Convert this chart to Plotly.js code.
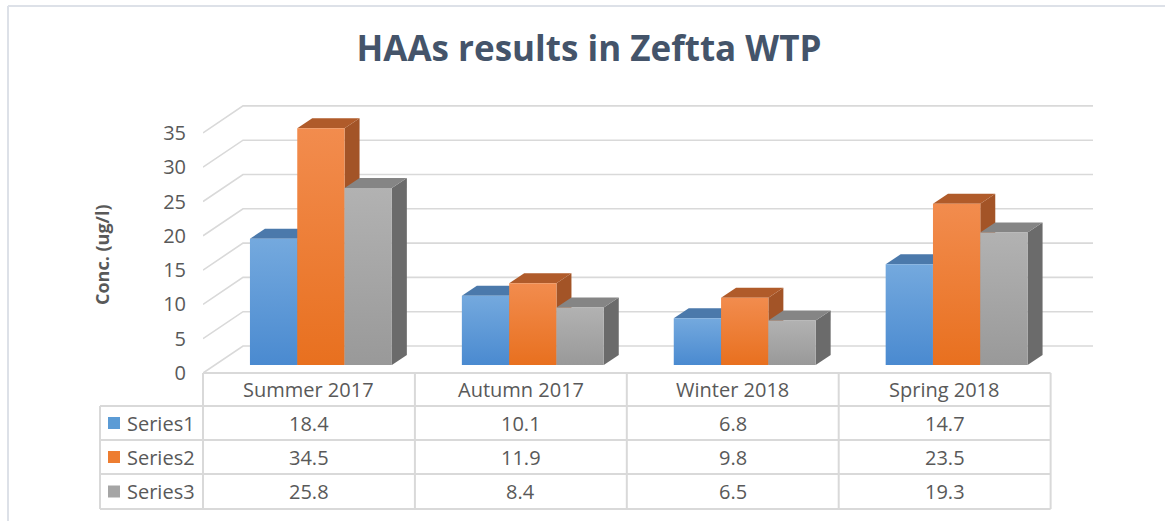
<!DOCTYPE html>
<html>
<head>
<meta charset="utf-8">
<script src="https://cdn.plot.ly/plotly-3.0.1.min.js"></script>
<style>html,body{margin:0;padding:0;background:#fff;}#chart{width:1165px;height:521px;}</style>
</head>
<body>
<div id="chart"></div>
<script>
// ---- data ----
const categories = ['Summer 2017', 'Autumn 2017', 'Winter 2018', 'Spring 2018'];
const seriesNames = ['Series1', 'Series2', 'Series3'];
const series1 = [18.4, 10.1, 6.8, 14.7];
const series2 = [34.5, 11.9, 9.8, 23.5];
const series3 = [25.8, 8.4, 6.5, 19.3];
const yTicks = [0, 5, 10, 15, 20, 25, 30, 35];
const yTitle = 'Conc. (ug/l)';
const chartTitle = 'HAAs results in Zeftta WTP';

// ---- styling / geometry constants ----
const W = 1165, H = 521;
const L = 203, R = 72;            // plot area in px
const PW = W - L - R;
const xRange = [-0.5, 3.7];
const pxPerX = PW / (xRange[1] - xRange[0]);
const y0px = 373, pxPerY = 6.86;
const yRange = [(y0px - H) / pxPerY, y0px / pxPerY];

const frontColors = [['#4a8ad0', '#74a9de'], ['#e8701f', '#f28c4e'], ['#999999', '#b2b2b2']];
const topColors = ['#4b79ab', '#b05b2a', '#858585'];
const sideColors = ['#3e6a9c', '#a35427', '#6b6b6b'];
const legendColors = ['#5b9bd5', '#ed7d31', '#a5a5a5'];
const textColor = '#595959';
const gridColor = '#d9d9d9';
const FONT = 'Open Sans, Liberation Sans, sans-serif';

const wallDX = 40 / pxPerX, wallDY = 27 / pxPerY;   // side wall depth
const barOffY = 8 / pxPerY;                         // bar front plane
const barDX = 15 / pxPerX, barDY = 10 / pxPerY;     // bar depth
const barW = 47.3 / pxPerX;
const groupStart = -59 / pxPerX;

const allSeries = [series1, series2, series3];
const traces = [];

// grid lines (left wall + back wall)
yTicks.forEach(v => {
  traces.push({
    type: 'scatter', mode: 'lines', hoverinfo: 'skip', showlegend: false,
    x: [xRange[0], xRange[0] + wallDX, xRange[1]],
    y: [v, v + wallDY, v + wallDY],
    line: {color: gridColor, width: 1.6}
  });
});

// 3D bars
categories.forEach((cat, c) => {
  allSeries.forEach((ser, s) => {
    const v = ser[c];
    const x0 = c + groupStart + s * barW;
    const x1 = x0 + barW;
    const b = barOffY, t = barOffY + v;
    // side face
    traces.push({
      type: 'scatter', mode: 'lines', hoverinfo: 'skip', showlegend: false,
      x: [x1, x1, x1 + barDX, x1 + barDX, x1],
      y: [b, t, t + barDY, b + barDY, b],
      fill: 'toself', fillcolor: sideColors[s], line: {width: 0, color: sideColors[s]}
    });
    // top face
    traces.push({
      type: 'scatter', mode: 'lines', hoverinfo: 'skip', showlegend: false,
      x: [x0, x1, x1 + barDX, x0 + barDX, x0],
      y: [t, t, t + barDY, t + barDY, t],
      fill: 'toself', fillcolor: topColors[s], line: {width: 0, color: topColors[s]}
    });
    // front face
    traces.push({
      type: 'scatter', mode: 'lines', name: seriesNames[s], showlegend: false,
      x: [x0, x1, x1, x0, x0],
      y: [b, b, t, t, b],
      text: cat + ': ' + v, hoverinfo: 'text',
      fill: 'toself', fillcolor: frontColors[s][0],
      fillgradient: {type: 'vertical', colorscale: [[0, frontColors[s][0]], [1, frontColors[s][1]]]},
      line: {width: 0, color: frontColors[s][0]}
    });
  });
});

// ---- table (drawn with shapes + annotations) ----
const px2x = px => (px - L) / PW;
const px2y = py => 1 - py / H;
const colW = pxPerX;                   // one category per column
const colLeft = c => L + (c) * colW;   // x=-0.5 at L
const tblLeft = 100;
const rowLines = [373, 406, 440, 474, 509];
const tableRight = colLeft(categories.length);
const lineStyle = {color: gridColor, width: 2};
const shapes = [];
// horizontal lines
shapes.push({type: 'line', xref: 'paper', yref: 'paper', x0: px2x(L), x1: px2x(tableRight), y0: px2y(rowLines[0]), y1: px2y(rowLines[0]), line: lineStyle});
for (let i = 1; i < rowLines.length; i++) {
  shapes.push({type: 'line', xref: 'paper', yref: 'paper', x0: px2x(tblLeft), x1: px2x(tableRight), y0: px2y(rowLines[i]), y1: px2y(rowLines[i]), line: lineStyle});
}
// vertical lines
for (let c = 0; c <= categories.length; c++) {
  shapes.push({type: 'line', xref: 'paper', yref: 'paper', x0: px2x(colLeft(c)), x1: px2x(colLeft(c)), y0: px2y(rowLines[0]), y1: px2y(rowLines[4]), line: lineStyle});
}
shapes.push({type: 'line', xref: 'paper', yref: 'paper', x0: px2x(tblLeft), x1: px2x(tblLeft), y0: px2y(rowLines[1]), y1: px2y(rowLines[4]), line: lineStyle});
// legend squares
seriesNames.forEach((n, s) => {
  const cy = (rowLines[s + 1] + rowLines[s + 2]) / 2;
  shapes.push({type: 'rect', xref: 'paper', yref: 'paper', x0: px2x(108), x1: px2x(120), y0: px2y(cy - 6), y1: px2y(cy + 6), fillcolor: legendColors[s], line: {width: 0}});
});
// outer chart border
shapes.push({type: 'line', xref: 'paper', yref: 'paper', x0: px2x(8), x1: px2x(1165), y0: px2y(6), y1: px2y(6), line: {color: '#dde1e8', width: 2}});
shapes.push({type: 'line', xref: 'paper', yref: 'paper', x0: px2x(8), x1: px2x(8), y0: px2y(6), y1: px2y(521), line: {color: '#dde1e8', width: 2}});

const annotations = [];
const tf = {family: FONT, size: 20, color: textColor};
categories.forEach((cat, c) => {
  const cx = colLeft(c) + colW / 2;
  annotations.push({xref: 'paper', yref: 'paper', x: px2x(cx), y: px2y((rowLines[0] + rowLines[1]) / 2), text: cat, showarrow: false, font: tf, xanchor: 'center', yanchor: 'middle'});
  allSeries.forEach((ser, s) => {
    annotations.push({xref: 'paper', yref: 'paper', x: px2x(cx), y: px2y((rowLines[s + 1] + rowLines[s + 2]) / 2), text: ser[c].toFixed(1), showarrow: false, font: tf, xanchor: 'center', yanchor: 'middle'});
  });
});
seriesNames.forEach((n, s) => {
  annotations.push({xref: 'paper', yref: 'paper', x: px2x(125), y: px2y((rowLines[s + 1] + rowLines[s + 2]) / 2), text: n, showarrow: false, font: tf, xanchor: 'left', yanchor: 'middle'});
});
// y axis title
annotations.push({xref: 'paper', yref: 'paper', x: px2x(102), y: px2y(255), text: '<b>' + yTitle + '</b>', textangle: -90, showarrow: false, font: {family: FONT, size: 18, color: textColor}, xanchor: 'center', yanchor: 'middle'});

const layout = {
  width: W, height: H,
  margin: {l: L, r: R, t: 0, b: 0, pad: 0},
  paper_bgcolor: '#ffffff', plot_bgcolor: '#ffffff',
  showlegend: false,
  title: {text: '<b>' + chartTitle + '</b>', xref: 'container', yref: 'container', x: 589 / W, y: 1 - 49 / H, xanchor: 'center', yanchor: 'middle',
          font: {family: FONT, size: 35, color: '#44546a'}},
  xaxis: {range: xRange, visible: false, fixedrange: true},
  yaxis: {range: yRange, tickvals: yTicks, ticktext: yTicks.map(String), showgrid: false, zeroline: false, showline: false, ticks: '',
          ticklabelstandoff: 16, tickfont: {family: FONT, size: 20, color: textColor}, fixedrange: true},
  shapes: shapes,
  annotations: annotations
};

Plotly.newPlot('chart', traces, layout, {displayModeBar: false, staticPlot: true});
</script>
</body>
</html>
